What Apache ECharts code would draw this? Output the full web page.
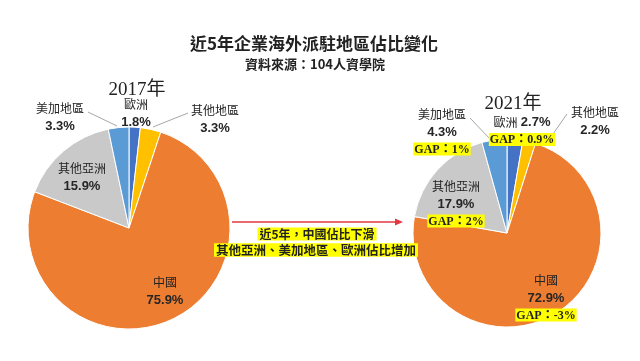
<!DOCTYPE html>
<html><head><meta charset="utf-8">
<script src="https://cdn.jsdelivr.net/npm/echarts@6/dist/echarts.min.js"></script>
<style>html,body{margin:0;padding:0;background:#fff}#c{width:640px;height:361px}</style>
</head><body><div id="c"></div>
<script>
// Data (clockwise from 12 o'clock)
const categories = ['歐洲', '其他地區', '中國', '其他亞洲', '美加地區'];
const values2017 = [1.8, 3.3, 75.9, 15.9, 3.3];
const values2021 = [2.7, 2.2, 72.9, 17.9, 4.3];
const gap2021 = ['0.9%', null, '-3%', '2%', '1%'];
const years = ['2017年', '2021年'];
const titleText = '近5年企業海外派駐地區佔比變化';
const subText = '資料來源：104人資學院';
const noteLines = ['近5年，中國佔比下滑', '其他亞洲、美加地區、歐洲佔比增加'];

const colors = ['#4472C4', '#FFC000', '#ED7D31', '#C9C9C9', '#5B9BD5'];
const CJK = '"Noto Sans CJK TC", sans-serif';
const NUM = '"Liberation Sans", Arial, sans-serif';
const SERIF = '"Liberation Serif", "Times New Roman", "Noto Sans CJK TC", serif';

// label layout (centers of label blocks)
const labelPos = [
  [[136, 113], [215, 119.5], [165, 291.5], [82, 177.5], [60, 117.5]],
  [[522, 130.5], [595, 121], [546, 297], [456, 203], [442, 131]]
];
const labelLines = [
  {4: [[88, 112], [117, 126]], 1: [[188, 113], [153, 127]]},
  {4: [[470, 118], [490, 139]], 1: [[567, 114], [553, 134]]}
];

function makeData(vals, si) {
  return categories.map((c, i) => ({
    name: c, value: vals[i],
    itemStyle: {color: colors[i]},
    labelLine: {show: !!labelLines[si][i], lineStyle: {color: '#A6A6A6', width: 1}}
  }));
}
const rich = {
  n: {fontFamily: CJK, fontSize: 12, color: '#222', lineHeight: 18},
  v: {fontFamily: NUM, fontSize: 13, fontWeight: 'bold', color: '#262626', lineHeight: 18},
  g: {fontFamily: SERIF, fontSize: 12, fontWeight: 'bold', color: '#222', backgroundColor: '#FFFF00', padding: [1, 1, 0, 1], lineHeight: 16}
};
function fmt(si) {
  return p => {
    const i = p.dataIndex;
    let s;
    if (si === 1 && i === 0) s = `{n|${p.name}} {v|${p.value}%}`;
    else s = `{n|${p.name}}\n{v|${p.value}%}`;
    if (si === 1 && gap2021[i]) s += `\n{g|GAP：${gap2021[i]}}`;
    return s;
  };
}
function layout(si) {
  return p => {
    const pos = labelPos[si][p.dataIndex];
    const r = {x: pos[0], y: pos[1], align: 'center', verticalAlign: 'middle'};
    const ll = labelLines[si][p.dataIndex];
    if (ll) r.labelLinePoints = [ll[1], ll[0], ll[0]];
    return r;
  };
}
function pie(vals, si, center, radius) {
  return {
    type: 'pie', center: center, radius: radius, startAngle: 90, clockwise: true,
    avoidLabelOverlap: false, silent: true, animation: false,
    itemStyle: {borderColor: '#fff', borderWidth: 1},
    label: {show: true, position: 'outside', formatter: fmt(si), rich: rich, align: 'center', overflow: 'none'},
    labelLine: {show: false},
    labelLayout: layout(si),
    data: makeData(vals, si)
  };
}

const chart = echarts.init(document.getElementById('c'), null, {renderer: 'canvas'});
chart.setOption({
  animation: false,
  title: [
    {text: titleText, left: 309, top: 30, textAlign: 'center', textStyle: {fontFamily: CJK, fontSize: 17, fontWeight: 'bold', color: '#222'}},
    {text: subText, left: 310, top: 53, textAlign: 'center', textStyle: {fontFamily: CJK, fontSize: 13, fontWeight: 'bold', color: '#222'}},
    {text: years[0], left: 132, top: 76, textAlign: 'center', textStyle: {fontFamily: SERIF, fontSize: 19, fontWeight: 'normal', color: '#222'}},
    {text: years[1], left: 508, top: 90, textAlign: 'center', textStyle: {fontFamily: SERIF, fontSize: 19, fontWeight: 'normal', color: '#222'}}
  ],
  series: [
    pie(values2017, 0, [129, 228], 101),
    pie(values2021, 1, [507, 233], 94)
  ],
  graphic: [
    {type: 'line', z: 100, shape: {x1: 232, y1: 222, x2: 398, y2: 222}, style: {stroke: '#E0383E', lineWidth: 1.5}},
    {type: 'polygon', z: 100, shape: {points: [[395, 218.5], [403, 222], [395, 225.5]]}, style: {fill: '#E0383E'}},
    {type: 'text', z: 100, x: 317, y: 234, style: {text: noteLines[0], font: 'bold 12px ' + CJK, fill: '#222', align: 'center', verticalAlign: 'middle', backgroundColor: '#FFFF00', padding: [1, 2, 0, 2]}},
    {type: 'text', z: 100, x: 316, y: 250, style: {text: noteLines[1], font: 'bold 12.5px ' + CJK, fill: '#222', align: 'center', verticalAlign: 'middle', backgroundColor: '#FFFF00', padding: [1, 2, 0, 2]}}
  ]
});
</script></body></html>
